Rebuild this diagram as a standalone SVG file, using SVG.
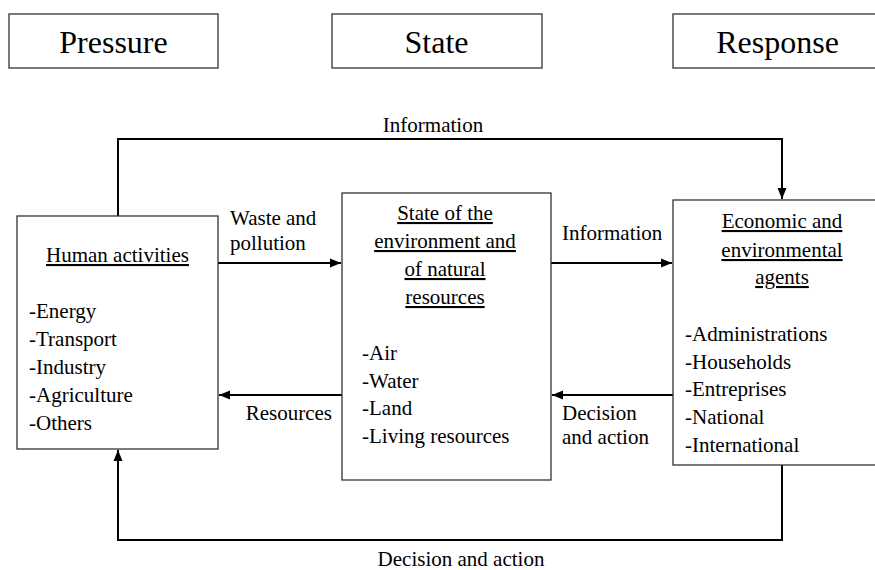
<svg xmlns="http://www.w3.org/2000/svg" width="875" height="570" viewBox="0 0 875 570">
<style>
text{font-family:'Liberation Serif','DejaVu Serif Condensed','DejaVu Serif',serif;fill:#000}
.box{fill:#fff;stroke:#333;stroke-width:1.3}
.hdr{font-size:32px;text-anchor:middle}
.body{font-size:21px}
.ttl{text-anchor:middle;text-decoration:underline}
.lbl{font-size:21px}
.con{fill:none;stroke:#000;stroke-width:2}
</style>
<defs>
<marker id="ah" markerUnits="userSpaceOnUse" markerWidth="12" markerHeight="10" refX="11" refY="5" orient="auto">
<path d="M0,0.5 L11,5 L0,9.5 Z" fill="#000"/>
</marker>
</defs>
<rect width="875" height="570" fill="#fff"/>
<g id="pressure">
<rect class="box" x="9" y="14" width="209" height="54"/>
<text class="hdr" x="113.5" y="53">Pressure</text>
</g>
<g id="state">
<rect class="box" x="332" y="14" width="210" height="54"/>
<text class="hdr" x="436.5" y="53">State</text>
</g>
<g id="response">
<rect class="box" x="673" y="14" width="220" height="54"/>
<text class="hdr" x="777.5" y="53">Response</text>
</g>
<g id="connectors">
<path class="con" d="M118,216 V139 H782 V199" marker-end="url(#ah)"/>
<path class="con" d="M782,465 V540 H118 V450" marker-end="url(#ah)"/>
<line class="con" x1="218" y1="263" x2="341" y2="263" marker-end="url(#ah)"/>
<line class="con" x1="551" y1="263" x2="672" y2="263" marker-end="url(#ah)"/>
<line class="con" x1="342" y1="395" x2="219" y2="395" marker-end="url(#ah)"/>
<line class="con" x1="673" y1="395" x2="552" y2="395" marker-end="url(#ah)"/>
<text class="lbl" x="433" y="132" text-anchor="middle">Information</text>
<text class="lbl" x="461" y="566" text-anchor="middle">Decision and action</text>
<text class="lbl" x="230" y="225">Waste and</text>
<text class="lbl" x="230" y="250">pollution</text>
<text class="lbl" x="562" y="240">Information</text>
<text class="lbl" x="332" y="420" text-anchor="end">Resources</text>
<text class="lbl" x="562" y="420">Decision</text>
<text class="lbl" x="562" y="444">and action</text>
</g>
<g id="human">
<rect class="box" x="17" y="216" width="201" height="233"/>
<text class="body ttl" x="117.5" y="262">Human activities</text>
<text class="body" x="29" y="318">-Energy</text>
<text class="body" x="29" y="346">-Transport</text>
<text class="body" x="29" y="374">-Industry</text>
<text class="body" x="29" y="402">-Agriculture</text>
<text class="body" x="29" y="430">-Others</text>
</g>
<g id="environment">
<rect class="box" x="342" y="193" width="209" height="287"/>
<text class="body ttl" x="445" y="220">State of the</text>
<text class="body ttl" x="445" y="248">environment and</text>
<text class="body ttl" x="445" y="276">of natural</text>
<text class="body ttl" x="445" y="304">resources</text>
<text class="body" x="362" y="360">-Air</text>
<text class="body" x="362" y="388">-Water</text>
<text class="body" x="362" y="415">-Land</text>
<text class="body" x="362" y="443">-Living resources</text>
</g>
<g id="agents">
<rect class="box" x="673" y="200" width="220" height="265"/>
<text class="body ttl" x="782" y="228">Economic and</text>
<text class="body ttl" x="782" y="257">environmental</text>
<text class="body ttl" x="782" y="284">agents</text>
<text class="body" x="685" y="341">-Administrations</text>
<text class="body" x="685" y="369">-Households</text>
<text class="body" x="685" y="396">-Entreprises</text>
<text class="body" x="685" y="424">-National</text>
<text class="body" x="685" y="452">-International</text>
</g>
</svg>
